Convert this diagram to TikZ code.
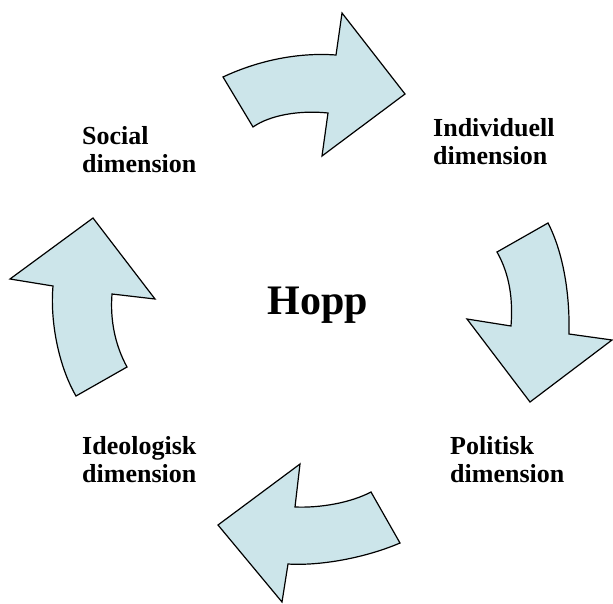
\documentclass[tikz,border=0pt]{standalone}
\usepackage{fontspec}
\setmainfont{Liberation Serif}
\definecolor{hoppblue}{RGB}{204,229,234}
\begin{document}
\begin{tikzpicture}[x=1pt,y=-1pt,
  pil/.style={draw=black,line width=1.2pt,fill=hoppblue,line join=miter},
  dimtext/.style={font=\bfseries\fontsize{26}{28}\selectfont,align=left,inner sep=0pt,anchor=base west}]
% page frame, 613 by 603
\useasboundingbox (0,0) rectangle (613,603);
% the four arrows, clockwise from the top
\draw[pil] (223,77)
 ..controls (255,62) and (295,52) ..(336,55)
 --(342,13) --(405,94) --(322,156) --(328,113)
 ..controls (300,110) and (270,115) ..(253,127) --cycle;
\draw[pil] (497,252) --(548,223)
 ..controls (562,250) and (570,290) ..(569,334)
 --(612,340) --(530,402) --(467,319) --(511,326)
 ..controls (513,300) and (510,275) ..(497,252) --cycle;
\draw[pil] (371,492) --(400,543)
 ..controls (365,558) and (320,566) ..(288,564)
 --(282,602) --(218,525) --(300,464) --(295,507)
 ..controls (320,508) and (350,503) ..(371,492) --cycle;
\draw[pil] (76,396) --(127,367)
 ..controls (115,345) and (110,320) ..(112,294)
 --(155,299) --(93,218) --(10,279) --(53,286)
 ..controls (50,320) and (58,365) ..(76,396) --cycle;
% labels (base = last line)
\node[font=\bfseries\fontsize{42}{46}\selectfont,anchor=base] (hopp) at (318,314) {Hopp};
\node[dimtext] (social) at (82,172) {Social\\dimension};
\node[dimtext] (individ) at (433,164) {Individuell\\dimension};
\node[dimtext] (politisk) at (450,482) {Politisk\\dimension};
\node[dimtext] (ideolog) at (82,482) {Ideologisk\\dimension};
\end{tikzpicture}
\end{document}
